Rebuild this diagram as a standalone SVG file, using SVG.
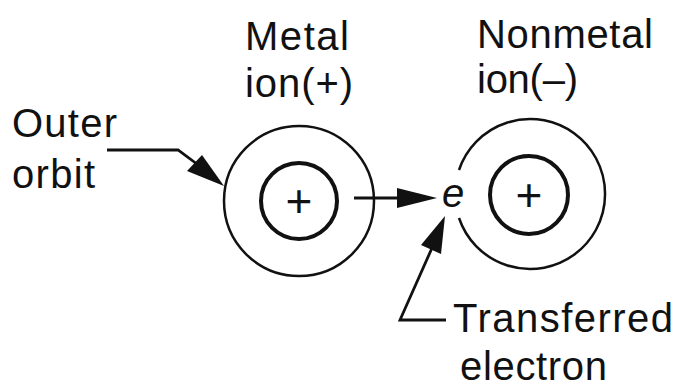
<svg xmlns="http://www.w3.org/2000/svg" width="681" height="390" viewBox="0 0 681 390">
<style>
.lbl{font-family:"Liberation Sans",Arial,sans-serif;font-size:40px;fill:#111}
.plus{font-family:"Liberation Sans",Arial,sans-serif;font-size:46px;fill:#111;text-anchor:middle}
.orbit{fill:none;stroke:#111;stroke-width:2.5}
.core{fill:none;stroke:#111;stroke-width:4}
.ln{fill:none;stroke:#111;stroke-width:2.8;stroke-linejoin:miter}
.head{fill:#111}
</style>
<rect width="681" height="390" fill="#fff"/>
<g id="metal-ion">
<circle class="orbit" cx="299" cy="201" r="75"/>
<circle class="core" cx="299" cy="201" r="38"/>
<text class="plus" x="299" y="217">+</text>
<text class="lbl" x="245" y="50" textLength="104">Metal</text>
<text class="lbl" x="245" y="97" textLength="108">ion(+)</text>
</g>
<g id="nonmetal-ion">
<path class="orbit" d="M459,170 A75,75 0 1 1 459,218"/>
<circle class="core" cx="529" cy="195" r="39"/>
<text class="plus" x="529" y="211">+</text>
<text class="lbl" x="477" y="48" textLength="176">Nonmetal</text>
<text class="lbl" x="477" y="93" textLength="101">ion(–)</text>
</g>
<g id="electron">
<text class="lbl" x="442" y="207" font-style="italic">e</text>
</g>
<g id="outer-orbit-label">
<text class="lbl" x="12" y="137" textLength="105">Outer</text>
<text class="lbl" x="12" y="188" textLength="83">orbit</text>
</g>
<g id="transferred-label">
<text class="lbl" x="453" y="332" textLength="220">Transferred</text>
<text class="lbl" x="460" y="380" textLength="147">electron</text>
</g>
<g id="connectors">
<polyline class="ln" points="107,150 178,150 205,170"/>
<polygon class="head" points="224,186 187,171 202,155"/>
<line class="ln" x1="354" y1="198" x2="405" y2="198"/>
<polygon class="head" points="437,198 397,188 397,208"/>
<polyline class="ln" points="446,320 400,320 432,248"/>
<polygon class="head" points="445,216 421,245 441,254"/>
</g>
</svg>
